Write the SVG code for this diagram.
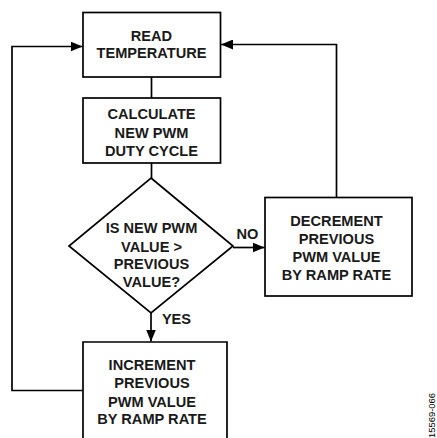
<svg xmlns="http://www.w3.org/2000/svg" width="437" height="438" viewBox="0 0 437 438">
<defs>
<style>
.box{fill:#fff;stroke:#000;stroke-width:1.7}
.ln{fill:none;stroke:#000;stroke-width:1.7}
.t{font-family:"Liberation Sans",Arial,sans-serif;font-weight:bold;font-size:14.6px;text-anchor:middle;fill:#1a1a1a}
.lbl{font-family:"Liberation Sans",Arial,sans-serif;font-weight:bold;font-size:14.6px;text-anchor:middle;fill:#1a1a1a}
</style>
<marker id="ah" viewBox="0 0 12 10" refX="12" refY="5" markerWidth="12" markerHeight="10" markerUnits="userSpaceOnUse" orient="auto">
<path d="M0,0 L12,5 L0,10 Z" fill="#000"/>
</marker>
</defs>
<rect width="437" height="438" fill="#fff"/>
<g id="connectors">
<line class="ln" x1="151.5" y1="77" x2="151.5" y2="98"/>
<line class="ln" x1="151.5" y1="163" x2="151.5" y2="178"/>
<line class="ln" x1="151" y1="313" x2="151" y2="341.5" marker-end="url(#ah)"/>
<line class="ln" x1="233" y1="247.5" x2="264.5" y2="247.5" marker-end="url(#ah)"/>
<polyline class="ln" points="336.5,197 336.5,44.5 221,44.5" marker-end="url(#ah)"/>
<polyline class="ln" points="83,390.5 12,390.5 12,46.5 82.5,46.5" marker-end="url(#ah)"/>
<text class="lbl" x="176.5" y="323.5">YES</text>
<text class="lbl" x="247.5" y="238.5">NO</text>
</g>
<g id="read-temperature">
<rect class="box" x="83" y="12.5" width="137.5" height="64.5"/>
<text class="t" x="151.5" y="40.5">READ</text>
<text class="t" x="151.5" y="58.3">TEMPERATURE</text>
</g>
<g id="calculate">
<rect class="box" x="83" y="98" width="137.5" height="65"/>
<text class="t" x="151.5" y="119">CALCULATE</text>
<text class="t" x="151.5" y="137.5">NEW PWM</text>
<text class="t" x="151.5" y="155.7">DUTY CYCLE</text>
</g>
<g id="decision">
<polygon class="box" points="151,178 233,246 151,313 69,246"/>
<text class="t" x="151.5" y="233.3">IS NEW PWM</text>
<text class="t" x="151.5" y="251.7">VALUE &gt;</text>
<text class="t" x="151.5" y="269.3">PREVIOUS</text>
<text class="t" x="151.5" y="286.7">VALUE?</text>
</g>
<g id="decrement">
<rect class="box" x="265" y="197.5" width="147" height="98.5"/>
<text class="t" x="336.5" y="226">DECREMENT</text>
<text class="t" x="336.5" y="244">PREVIOUS</text>
<text class="t" x="336.5" y="262">PWM VALUE</text>
<text class="t" x="336.5" y="280">BY RAMP RATE</text>
</g>
<g id="increment">
<path class="ln" d="M83,440 L83,342 L227,342 L227,440"/>
<text class="t" x="152" y="370">INCREMENT</text>
<text class="t" x="152" y="388.3">PREVIOUS</text>
<text class="t" x="152" y="406.7">PWM VALUE</text>
<text class="t" x="152" y="424.3">BY RAMP RATE</text>
</g>
<text x="0" y="0" transform="translate(434.5,438) rotate(-90)" font-family="'Liberation Sans',Arial,sans-serif" font-size="9" textLength="45" lengthAdjust="spacingAndGlyphs" fill="#000">15569-066</text>
</svg>
